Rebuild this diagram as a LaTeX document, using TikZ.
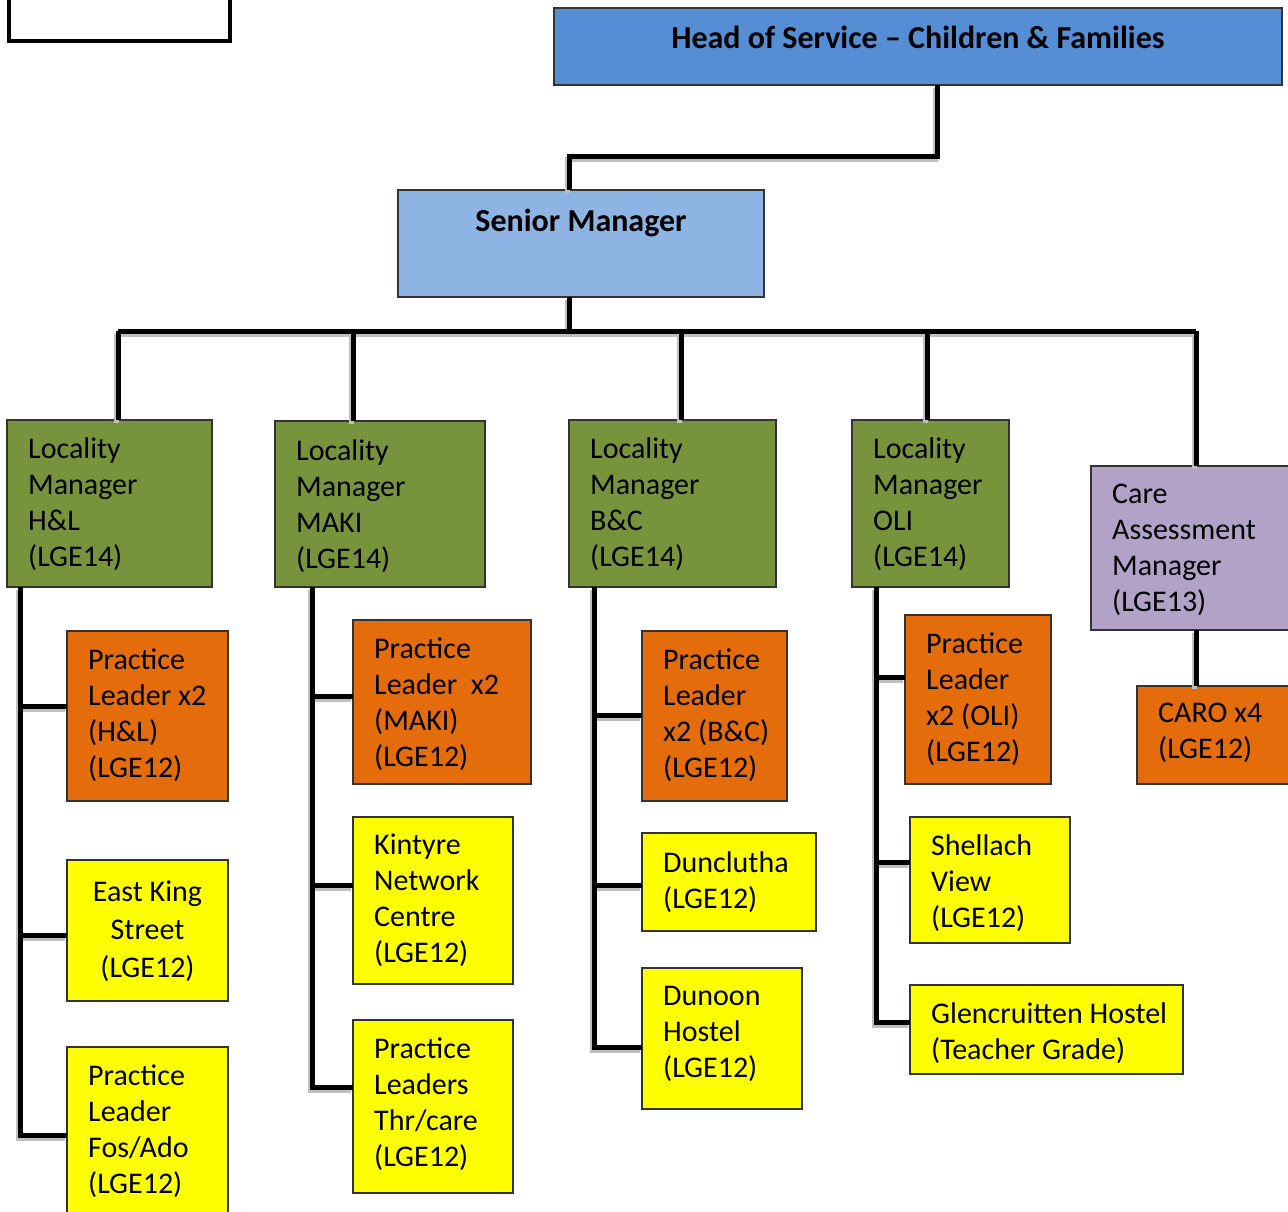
\documentclass[tikz,border=0pt]{standalone}
\usepackage{fontspec}
\setmainfont{Carlito}
\usepackage{tikz}

\definecolor{headblue}{HTML}{558ED5}
\definecolor{seniorblue}{HTML}{8EB4E3}
\definecolor{lmgreen}{HTML}{77933C}
\definecolor{camlilac}{HTML}{B3A2C7}
\definecolor{plorange}{HTML}{E46C0A}
\definecolor{unityellow}{HTML}{FFFF00}

% all connectors, drawn once as shadow and once in black
\newcommand{\orglinks}{%
  \draw[link] (hj |- head.south) -- (hj) -| (sj |- senior.north);
  \draw[link] (sj |- senior.south) -- (sj);
  \draw[link] (b1) -- (b5);
  \foreach \b/\n in {b1/lmhl, b2/lmmaki, b3/lmbc, b4/lmoli, b5/cam}
    \draw[link] (\b) -- (\b |- \n.north);
  \draw[link] (cam.south -| b5) -- (b5 |- caro.north);
  % column spines
  \draw[link] (lmhl.south -| c1) |- (fos.west |- 0,1135);
  \draw[link] (lmmaki.south -| c2) |- (thr.west |- 0,1087);
  \draw[link] (lmbc.south -| c3) |- (dun.west |- 0,1047);
  \draw[link] (lmoli.south -| c4) |- (glen.west |- 0,1022);
  \foreach \c/\y/\n in {c1/706/plhl, c1/935/eks, c2/696/plmaki, c2/885/kin,
                        c3/715/plbc, c3/885/dcl, c4/677/ploli, c4/862/shv}
    \draw[link] (\c |- 0,\y) -- (\n.west |- 0,\y);
}

\begin{document}
\begin{tikzpicture}[x=1pt,y=-1pt,
    unit/.style={draw=black!80, line width=1.2pt, anchor=north west,
                 inner sep=0pt, outer sep=0pt},
    txt/.style={anchor=north west, align=left, inner sep=0pt,
                font=\fontsize{30}{36}\selectfont, execute at begin node=\strut},
    ttl/.style={anchor=base, inner sep=0pt,
                font=\fontsize{32}{36}\selectfont\bfseries},
    link/.style={line width=5pt}]

  \clip (0,0) rectangle (1288,1212);

  \node[draw, line width=4pt, anchor=north west, inner sep=0pt,
        minimum width=221, minimum height=59] (blank) at (7,-20) {};

  % top of the tree
  \node[unit, fill=headblue, minimum width=728, minimum height=77] (head) at (554,8) {};
  \node[ttl] (head-t) at ([shift={(0,41)}]head.north) {Head of Service – Children \& Families};
  \node[unit, fill=seniorblue, minimum width=366, minimum height=107] (senior) at (398,190) {};
  \node[ttl] (senior-t) at ([shift={(0,41)}]senior.north) {Senior Manager};

  % locality managers
  \node[unit, fill=lmgreen, minimum width=205, minimum height=167] (lmhl) at (7,420) {};
  \node[txt] (lmhl-t) at ([shift={(21,17)}]lmhl.north west) {Locality\\Manager\\H\&L\\(LGE14)};
  \node[unit, fill=lmgreen, minimum width=210, minimum height=166] (lmmaki) at (275,421) {};
  \node[txt] (lmmaki-t) at ([shift={(21,18)}]lmmaki.north west) {Locality\\Manager\\MAKI\\(LGE14)};
  \node[unit, fill=lmgreen, minimum width=207, minimum height=167] (lmbc) at (569,420) {};
  \node[txt] (lmbc-t) at ([shift={(21,17)}]lmbc.north west) {Locality\\Manager\\B\&C\\(LGE14)};
  \node[unit, fill=lmgreen, minimum width=157, minimum height=167] (lmoli) at (852,420) {};
  \node[txt] (lmoli-t) at ([shift={(21,17)}]lmoli.north west) {Locality\\Manager\\OLI\\(LGE14)};
  \node[unit, fill=camlilac, minimum width=205, minimum height=164] (cam) at (1091,466) {};
  \node[txt] (cam-t) at ([shift={(21,18)}]cam.north west) {Care\\Assessment\\Manager\\(LGE13)};
  \node[unit, fill=plorange, minimum width=160, minimum height=98] (caro) at (1137,686) {};
  \node[txt] (caro-t) at ([shift={(21,17)}]caro.north west) {CARO x4\\(LGE12)};

  % H&L column
  \node[unit, fill=plorange, minimum width=161, minimum height=170] (plhl) at (67,631) {};
  \node[txt] (plhl-t) at ([shift={(21,18)}]plhl.north west) {Practice\\Leader x2\\(H\&L)\\(LGE12)};
  \node[unit, fill=unityellow, minimum width=161, minimum height=141] (eks) at (67,860) {};
  \node[txt, anchor=north, align=center, font=\fontsize{30}{38}\selectfont] (eks-t)
    at ([shift={(0,21)}]eks.north) {East King\\Street\\(LGE12)};
  \node[unit, fill=unityellow, minimum width=161, minimum height=180] (fos) at (67,1047) {};
  \node[txt] (fos-t) at ([shift={(21,18)}]fos.north west) {Practice\\Leader\\Fos/Ado\\(LGE12)};

  % MAKI column
  \node[unit, fill=plorange, minimum width=178, minimum height=164] (plmaki) at (353,620) {};
  \node[txt] (plmaki-t) at ([shift={(21,18)}]plmaki.north west) {Practice\\Leader~ x2\\(MAKI)\\(LGE12)};
  \node[unit, fill=unityellow, minimum width=160, minimum height=167] (kin) at (353,817) {};
  \node[txt] (kin-t) at ([shift={(21,17)}]kin.north west) {Kintyre\\Network\\Centre\\(LGE12)};
  \node[unit, fill=unityellow, minimum width=160, minimum height=173] (thr) at (353,1020) {};
  \node[txt] (thr-t) at ([shift={(21,18)}]thr.north west) {Practice\\Leaders\\Thr/care\\(LGE12)};

  % B&C column
  \node[unit, fill=plorange, minimum width=145, minimum height=170] (plbc) at (642,631) {};
  \node[txt] (plbc-t) at ([shift={(21,18)}]plbc.north west) {Practice\\Leader\\x2 (B\&C)\\(LGE12)};
  \node[unit, fill=unityellow, minimum width=174, minimum height=98] (dcl) at (642,833) {};
  \node[txt] (dcl-t) at ([shift={(21,18)}]dcl.north west) {Dunclutha\\(LGE12)};
  \node[unit, fill=unityellow, minimum width=160, minimum height=141] (dun) at (642,968) {};
  \node[txt] (dun-t) at ([shift={(21,18)}]dun.north west) {Dunoon\\Hostel\\(LGE12)};

  % OLI column
  \node[unit, fill=plorange, minimum width=146, minimum height=169] (ploli) at (905,615) {};
  \node[txt] (ploli-t) at ([shift={(21,18)}]ploli.north west) {Practice\\Leader\\x2 (OLI)\\(LGE12)};
  \node[unit, fill=unityellow, minimum width=160, minimum height=126] (shv) at (910,817) {};
  \node[txt] (shv-t) at ([shift={(21,17)}]shv.north west) {Shellach\\View\\(LGE12)};
  \node[unit, fill=unityellow, minimum width=273, minimum height=89] (glen) at (910,985) {};
  \node[txt] (glen-t) at ([shift={(21,17)}]glen.north west) {Glencruitten Hostel\\(Teacher Grade)};

  % junctions
  \coordinate (hj) at (937,157);
  \coordinate (sj) at (569,331);
  \coordinate (b1) at (118,331);
  \coordinate (b2) at (353,331);
  \coordinate (b3) at (681,331);
  \coordinate (b4) at (927,331);
  \coordinate (b5) at (1196,331);
  \coordinate (c1) at (20,0);
  \coordinate (c2) at (312,0);
  \coordinate (c3) at (594,0);
  \coordinate (c4) at (876,0);

  \begin{scope}[transform canvas={shift={(-2,3)}}, link/.append style={draw=gray!50}]
    \orglinks
  \end{scope}
  \orglinks
\end{tikzpicture}
\end{document}
